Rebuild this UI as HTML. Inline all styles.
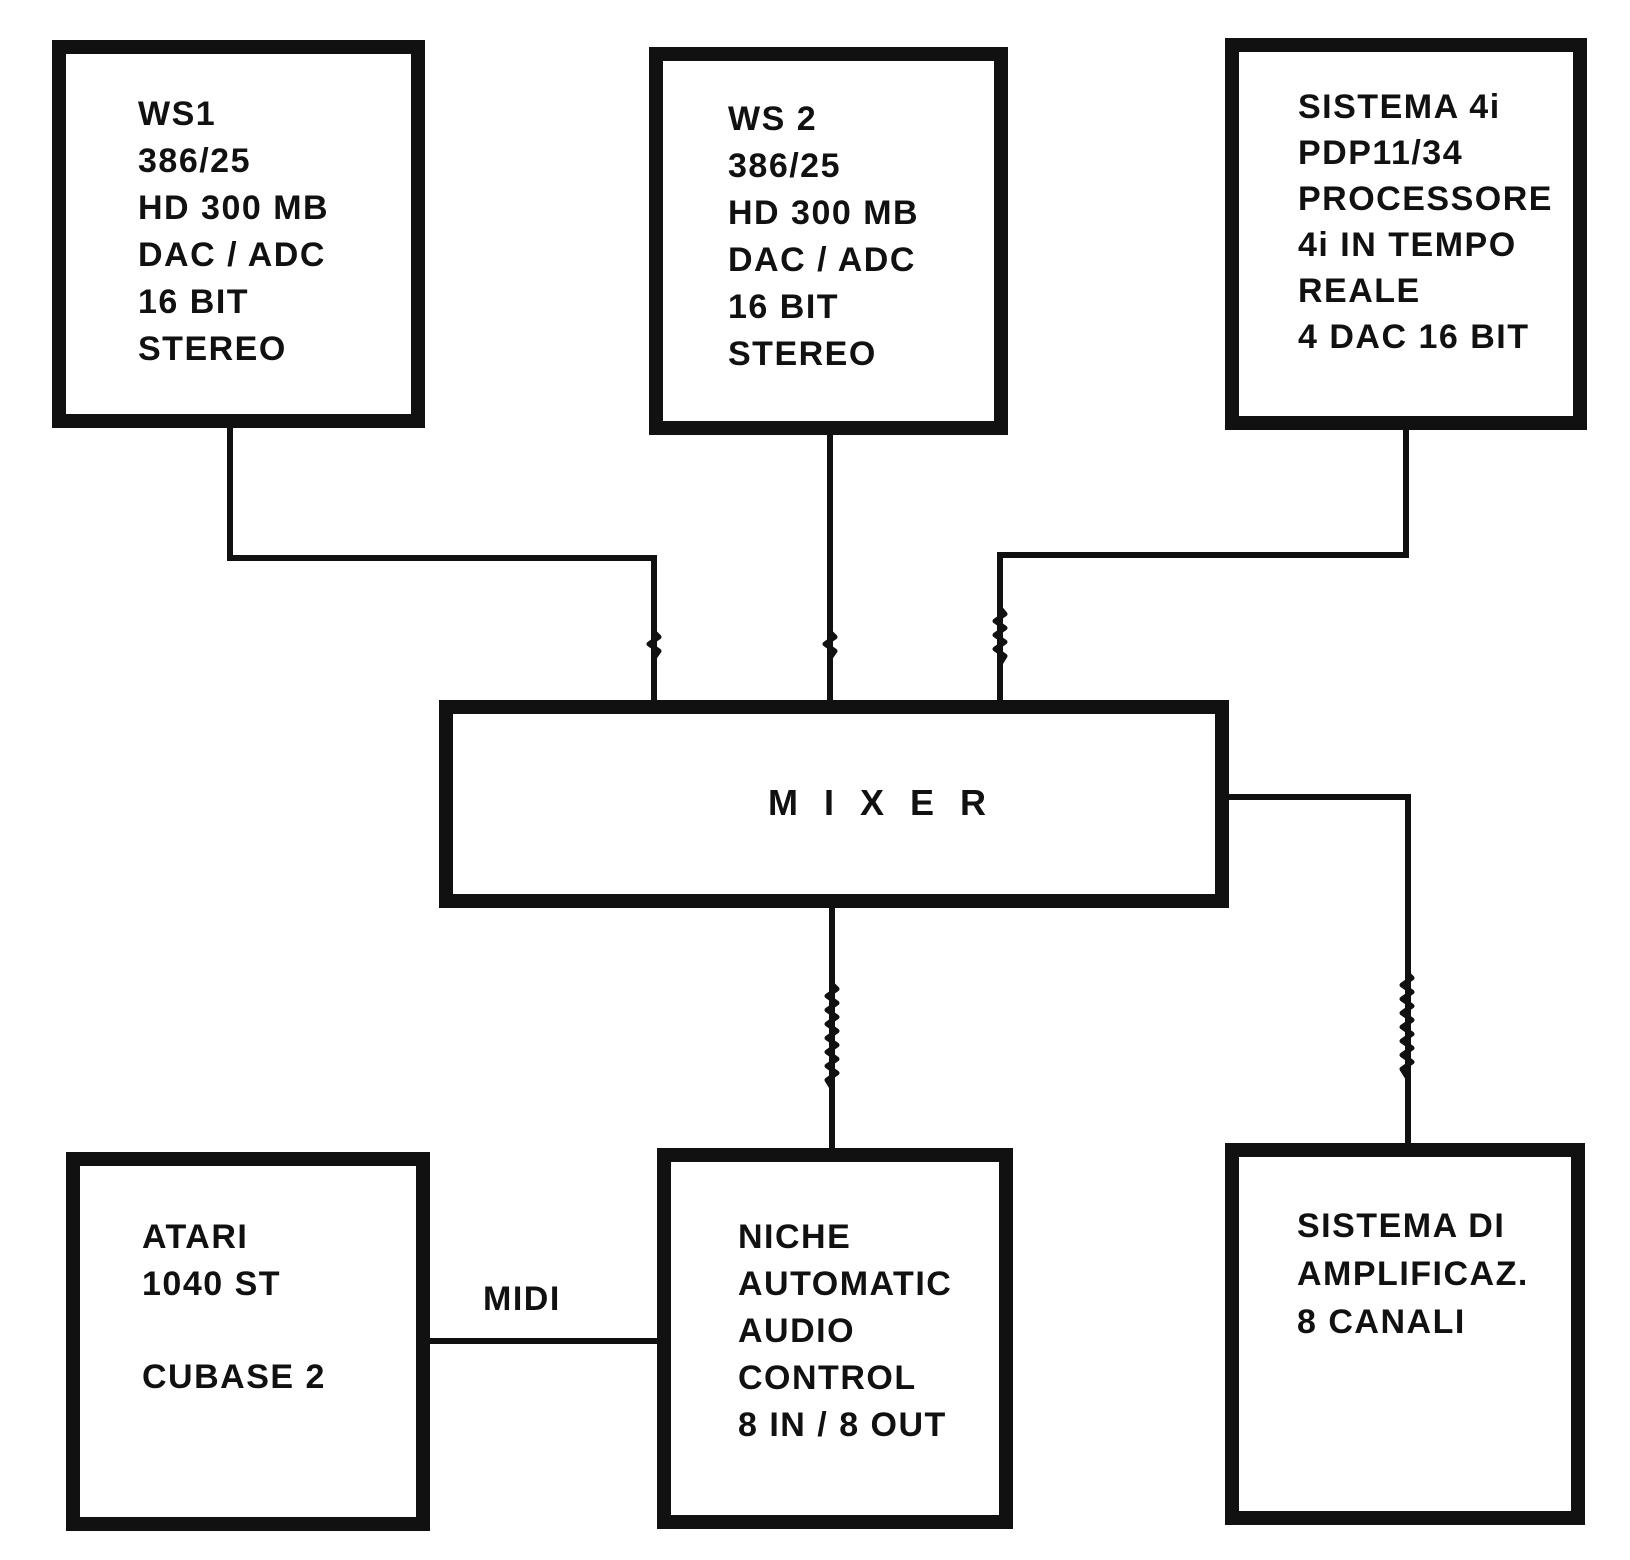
<!DOCTYPE html>
<html><head><meta charset="utf-8"><style>
html,body{margin:0;padding:0;background:#fff;}
svg{display:block;}
text{font-family:"Liberation Sans",sans-serif;font-weight:bold;fill:#111;font-size:34px;letter-spacing:1.5px;}
</style></head><body>
<svg width="1630" height="1560" viewBox="0 0 1630 1560" xmlns="http://www.w3.org/2000/svg">
<g fill="none" stroke="#111" stroke-width="14">
<rect x="59" y="47" width="359" height="374"/>
<rect x="656" y="54" width="345" height="374"/>
<rect x="1232" y="45" width="348" height="378"/>
<rect x="446" y="707" width="776" height="194"/>
<rect x="73" y="1159" width="350" height="365"/>
<rect x="664" y="1155" width="342" height="367"/>
<rect x="1232" y="1150" width="346" height="368"/>
</g>
<g fill="none" stroke="#111" stroke-width="6">
<polyline points="230,428 230,558 654,558 654,707"/>
<line x1="830" y1="435" x2="830" y2="707"/>
<polyline points="1406,430 1406,555 1000,555 1000,707"/>
<line x1="832" y1="908" x2="832" y2="1148"/>
<polyline points="1228,797 1408,797 1408,1143"/>
<line x1="430" y1="1341" x2="657" y2="1341"/>
</g>
<g fill="none" stroke="#111" stroke-width="5" stroke-linejoin="round">
<polyline points="654,632 659,637 649,644 659,651 654,658"/>
<polyline points="830,632 835,637 825,644 835,651 830,658"/>
<polyline points="1000,608 1005,614 995,621 1005,628 995,635 1005,642 995,649 1005,656 1000,664"/>
<polyline points="832,984 837,989 827,996 837,1003 827,1010 837,1017 827,1024 837,1031 827,1038 837,1045 827,1052 837,1059 827,1066 837,1073 827,1080 832,1088"/>
<polyline points="1407,973 1412,978 1402,985 1412,992 1402,999 1412,1006 1402,1013 1412,1020 1402,1027 1412,1034 1402,1041 1412,1048 1402,1055 1412,1062 1402,1069 1407,1077"/>
</g>
<text x="138" y="125">WS1</text>
<text x="138" y="172">386/25</text>
<text x="138" y="219">HD 300 MB</text>
<text x="138" y="266">DAC / ADC</text>
<text x="138" y="313">16 BIT</text>
<text x="138" y="360">STEREO</text>
<text x="728" y="130">WS 2</text>
<text x="728" y="177">386/25</text>
<text x="728" y="224">HD 300 MB</text>
<text x="728" y="271">DAC / ADC</text>
<text x="728" y="318">16 BIT</text>
<text x="728" y="365">STEREO</text>
<text x="1298" y="118">SISTEMA 4i</text>
<text x="1298" y="164">PDP11/34</text>
<text x="1298" y="210">PROCESSORE</text>
<text x="1298" y="256">4i IN TEMPO</text>
<text x="1298" y="302">REALE</text>
<text x="1298" y="348">4 DAC 16 BIT</text>
<text x="768" y="815" style="letter-spacing:26px;font-size:36px">MIXER</text>
<text x="142" y="1248">ATARI</text>
<text x="142" y="1295">1040 ST</text>
<text x="142" y="1388">CUBASE 2</text>
<text x="483" y="1310">MIDI</text>
<text x="738" y="1248">NICHE</text>
<text x="738" y="1295">AUTOMATIC</text>
<text x="738" y="1342">AUDIO</text>
<text x="738" y="1389">CONTROL</text>
<text x="738" y="1436">8 IN / 8 OUT</text>
<text x="1297" y="1237">SISTEMA DI</text>
<text x="1297" y="1285">AMPLIFICAZ.</text>
<text x="1297" y="1333">8 CANALI</text>
</svg>
</body></html>
